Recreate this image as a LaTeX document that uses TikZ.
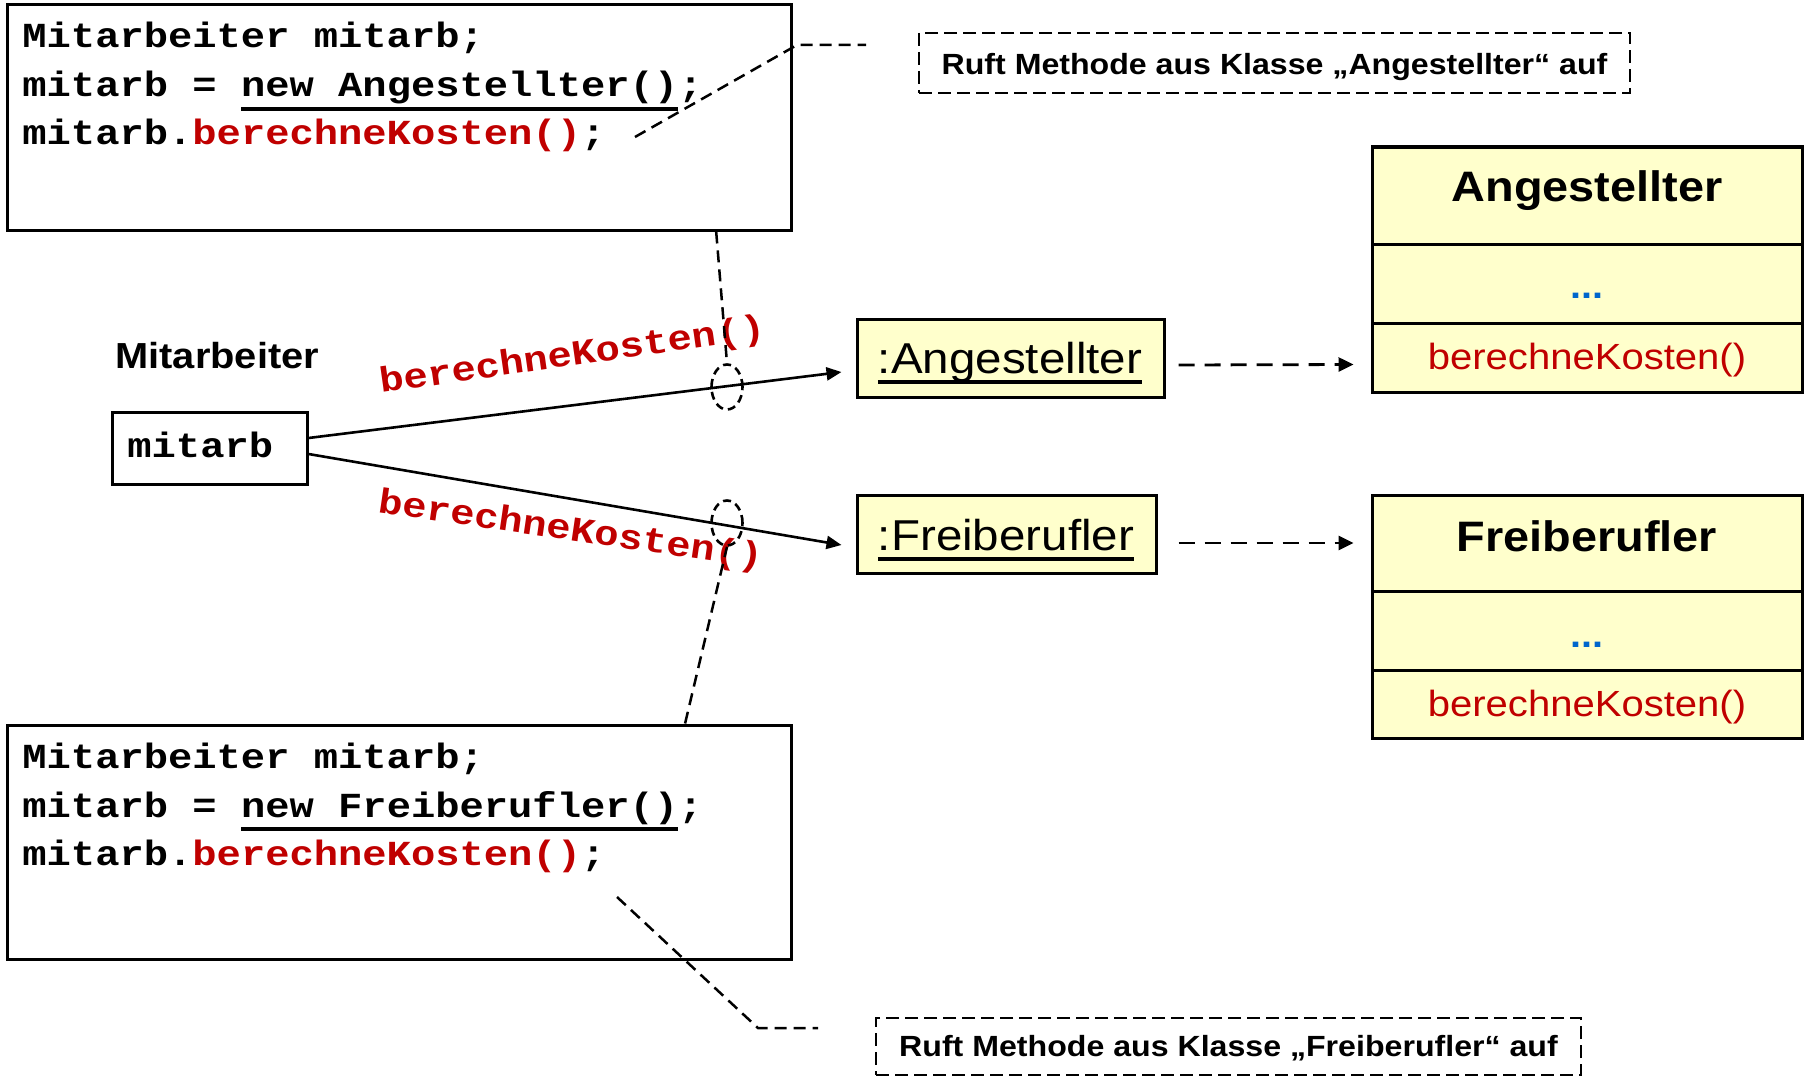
\documentclass[tikz,border=0pt]{standalone}
\usepackage{fontspec}
\setmainfont{Liberation Sans}[FakeStretch=1.1]
\newfontfamily\codefont{Liberation Mono}[FakeStretch=1.15]
\usetikzlibrary{shapes.geometric,arrows.meta,calc}

\definecolor{codered}{HTML}{C00000}
\definecolor{dotblue}{HTML}{0066CC}
\definecolor{classfill}{HTML}{FFFFCC}

% thick underlines for code and object names
\newsavebox\ulbox
\newcommand\ulcode[1]{\sbox\ulbox{#1}\rlap{\rule[-7pt]{\wd\ulbox}{2pt}}\usebox\ulbox}
\newcommand\ulobj[1]{\sbox\ulbox{#1}\rlap{\rule[-5.5pt]{\wd\ulbox}{2pt}}\usebox\ulbox}

\tikzset{
  codebox/.style={draw, line width=1.5pt, fill=white, inner sep=0pt, minimum width=392pt},
  codeline/.style={anchor=base west, inner sep=0pt, font=\codefont\bfseries\fontsize{17.6pt}{21pt}\selectfont},
  codelabel/.style={anchor=base west, inner sep=0pt, text=codered, font=\codefont\bfseries\fontsize{17.6pt}{21pt}\selectfont},
  varbox/.style={draw, line width=1.5pt, inner sep=0pt, minimum width=97.5pt, minimum height=36pt},
  objbox/.style={draw, line width=1.5pt, fill=classfill, inner sep=0pt, minimum height=39pt},
  objtext/.style={anchor=base, inner sep=0pt, font=\fontsize{21.6pt}{25pt}\selectfont},
  clsbox/.style={draw, line width=1.5pt, fill=classfill, inner sep=0pt, minimum width=215pt},
  clstitle/.style={anchor=base, inner sep=0pt, font=\bfseries\fontsize{21.3pt}{25pt}\selectfont},
  clsdots/.style={anchor=base, inner sep=0pt, text=dotblue, font=\bfseries\fontsize{18pt}{21pt}\selectfont},
  clsop/.style={anchor=base, inner sep=0pt, text=codered, font=\fontsize{18.2pt}{21pt}\selectfont},
  callbox/.style={draw, line width=1.3pt, dash pattern=on 6.5pt off 3pt, inner sep=0pt},
  calltext/.style={anchor=base, inner sep=0pt, font=\bfseries\fontsize{14.6pt}{17pt}\selectfont},
  leader/.style={line width=1.25pt, dash pattern=on 6pt off 3.5pt},
  focus/.style={ellipse, draw, line width=1.3pt, dash pattern=on 4pt off 2.5pt, inner sep=0pt,
                minimum width=15.5pt, minimum height=22.5pt},
  assoc/.style={line width=1.3pt, -{Triangle[length=7.5pt,width=6.5pt]}},
  deparrow/.style={line width=1.4pt, dash pattern=on 8pt off 5pt, -{Triangle[length=7.5pt,width=7pt]}},
}

\begin{document}
\begin{tikzpicture}[x=0.5pt, y=-0.5pt]
\path[fill=white, use as bounding box] (0,0) rectangle (1809,1081);

% code fragment: Angestellter
\node[codebox, minimum height=112.5pt] (codeA) at (399,117.5) {};
\node[codeline] (codeA1) at (22,48) {Mitarbeiter mitarb;};
\node[codeline] (codeA2) at (22,97) {mitarb = \ulcode{new Angestellter()};};
\node[codeline] (codeA3) at (22,145) {mitarb.\textcolor{codered}{berechneKosten()};};

% code fragment: Freiberufler
\node[codebox, minimum height=117pt] (codeB) at (399,842) {};
\node[codeline] (codeB1) at (22,768) {Mitarbeiter mitarb;};
\node[codeline] (codeB2) at (22,817) {mitarb = \ulcode{new Freiberufler()};};
\node[codeline] (codeB3) at (22,865) {mitarb.\textcolor{codered}{berechneKosten()};};

% variable of type Mitarbeiter
\node[anchor=base west, inner sep=0pt, font=\bfseries\fontsize{18.1pt}{21pt}\selectfont] (vartype) at (115,368) {Mitarbeiter};
\node[varbox] (mitarb) at (209.5,448) {};
\node[codeline] (mitarbtext) at (127,457) {mitarb};

% objects
\node[objbox, minimum width=153.5pt] (objA) at (1010.5,358) {};
\node[objtext] (objAtext) at (1010,373) {\ulobj{:Angestellter}};
\node[objbox, minimum width=149.5pt] (objF) at (1006.5,534) {};
\node[objtext] (objFtext) at (1006,550) {\ulobj{:Freiberufler}};

% class Angestellter
\node[clsbox, minimum height=48.5pt] (clsAt) at (1587,195.5) {};
\node[clsbox, minimum height=39.5pt] (clsAa) at (1587,283.5) {};
\node[clsbox, minimum height=34.5pt] (clsAo) at (1587,357.5) {};
\node[clstitle] (clsAname) at (1587,201) {Angestellter};
\node[clsdots] (clsAdots) at (1587,298) {...};
\node[clsop] (clsAop) at (1587,369) {berechneKosten()};

% class Freiberufler
\node[clsbox, minimum height=48pt] (clsFt) at (1587,543) {};
\node[clsbox, minimum height=39.5pt] (clsFa) at (1587,630.5) {};
\node[clsbox, minimum height=34pt] (clsFo) at (1587,704) {};
\node[clstitle] (clsFname) at (1587,551) {Freiberufler};
\node[clsdots] (clsFdots) at (1587,647) {...};
\node[clsop] (clsFop) at (1587,716) {berechneKosten()};

% callouts
\node[callbox, minimum width=355.5pt, minimum height=30pt] (callA) at (1274.5,63) {};
\node[calltext] (callAtext) at (1274.5,75) {Ruft Methode aus Klasse „Angestellter“ auf};
\node[callbox, minimum width=352.5pt, minimum height=28.5pt] (callF) at (1228.5,1046.5) {};
\node[calltext] (callFtext) at (1228.5,1056) {Ruft Methode aus Klasse „Freiberufler“ auf};

% messages sent through the variable
\draw[assoc] ($(mitarb.east)+(0,-10)$) -- ($(objA.west)+(-14,14)$);
\draw[assoc] ($(mitarb.east)+(0,6)$) -- ($(objF.west)+(-14,11)$);
\node[codelabel, rotate=8.1] (msgA) at (381,393) {berechneKosten()};
\node[codelabel, rotate=-8.3] (msgF) at (377,512) {berechneKosten()};

% instance-of arrows
\draw[deparrow] ($(objA.east)+(13,7)$) -- ($(clsAo.west)+(-17,7)$);
\draw[deparrow] ($(objF.east)+(21,9)$) -- ($(clsFt.west)+(-17,0)$);

% highlighted calls and their links to the code
\node[focus] (e1) at (727,387) {};
\node[focus] (e2) at (727,523) {};
\draw[leader] ($(codeA.south west)!0.903!(codeA.south east)$) -- (e1.north);
\draw[leader] ($(codeB.north west)!0.8635!(codeB.north east)$) -- (e2.south);

% leaders from the calls to the callouts
\coordinate (la0) at (635,137);
\coordinate (la1) at (797,45);
\coordinate (la2) at (866,45);
\draw[leader] (la0) -- (la1) -- (la2);
\coordinate (lf0) at (617,897);
\coordinate (lf1) at (758,1028);
\coordinate (lf2) at (818,1028);
\draw[leader] (lf0) -- (lf1) -- (lf2);
\end{tikzpicture}
\end{document}
